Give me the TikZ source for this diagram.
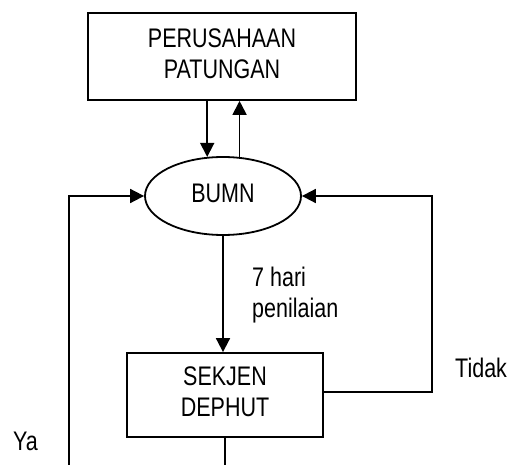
\documentclass[tikz,border=0pt]{standalone}
\usepackage{fontspec}
\setmainfont{Liberation Sans}
\usetikzlibrary{shapes.geometric,arrows.meta}
\newcommand\tx[2]{\scalebox{1}[1.25]{\fontsize{21.5}{24.7}\selectfont\begin{tabular}[t]{@{}#1@{}}#2\end{tabular}}}
\tikzset{
  box/.style={draw, line width=1.8pt, inner sep=0pt},
  oval/.style={draw, ellipse, line width=1.8pt, inner sep=0pt},
  conn/.style={line width=1.8pt},
  arr/.style={conn, -{Triangle[length=14pt,width=14pt]}},
  lab/.style={inner sep=0pt, anchor=base west}
}
\begin{document}
\begin{tikzpicture}[x=1pt,y=-1pt]
\useasboundingbox (0,0) rectangle (507,465);
\node[box, minimum width=268pt, minimum height=87pt] (top) at (222,56.5) {\tx{c}{PERUSAHAAN\\PATUNGAN}};
\node[oval, minimum width=156pt, minimum height=78pt] (bumn) at (223,196) {\tx{c}{BUMN}};
\node[box, minimum width=196pt, minimum height=84pt] (sek) at (225,395) {\tx{c}{SEKJEN\\DEPHUT}};
\coordinate (ya0) at (69,465);
\coordinate (rc) at (432,196);
% top <-> bumn
\draw[arr] (top.south -| bumn.112.7) -- (bumn.112.7);
\draw[arr] (bumn.67.3) -- (bumn.67.3 |- top.south);
% bumn -> sekjen
\draw[arr] (bumn.south) -- (bumn.south |- sek.north);
% left loop (Ya)
\draw[arr] (ya0) |- (bumn.west);
% right loop (Tidak)
\draw[arr] ([yshift=3pt]sek.east) -| (rc) -- (bumn.east);
% bottom exit
\draw[conn] (sek.south) -- (sek.south |- ya0);
% labels
\node[lab] (l7) at (252,287) {\tx{l}{7 hari\\penilaian}};
\node[lab] (tidak) at (455,378) {\tx{l}{Tidak}};
\node[lab] (ya) at (13,451) {\tx{l}{Ya}};
\end{tikzpicture}
\end{document}
